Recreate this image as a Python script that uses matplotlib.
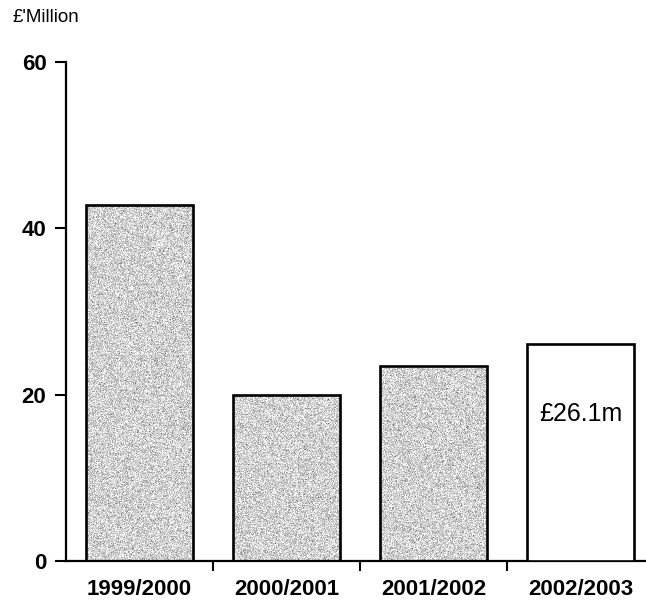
import matplotlib
matplotlib.use("Agg")
import matplotlib.pyplot as plt
import numpy as np

plt.rcParams['font.family'] = ['Liberation Sans', 'DejaVu Sans']

years = ['1999/2000', '2000/2001', '2001/2002', '2002/2003']
spend = [42.8, 20.0, 23.5, 26.1]
shaded = [True, True, True, False]
last_label = '£26.1m'

fig = plt.figure(figsize=(6.46, 6.03), dpi=100)
ax = fig.add_axes([0.102, 0.0697, 0.898, 0.8275])

x = np.arange(len(years))
faces = ['none' if s else 'white' for s in shaded]
bars = ax.bar(x, spend, width=0.73, color=faces, edgecolor='black',
              linewidth=1.9, zorder=3)

# grainy grey stipple inside the shaded bars
rng = np.random.default_rng(7)
grain = np.clip(rng.normal(0.82, 0.12, (420, 170)), 0.3, 1.0)
for b, s in zip(bars, shaded):
    if not s:
        continue
    im = ax.imshow(grain, cmap='gray', vmin=0, vmax=1, aspect='auto',
                   extent=(b.get_x(), b.get_x() + b.get_width(), 0, b.get_height()),
                   interpolation='nearest', zorder=2)
    im.set_clip_path(b)

ax.text(x[-1], 17.7, last_label, ha='center', va='center', fontsize=18, zorder=4)

ax.set_xlim(-0.5, 3.445)
ax.set_ylim(0, 60)
ax.set_yticks([0, 20, 40, 60])
ax.set_xticks(x)
ax.set_xticklabels(years, fontsize=16, fontweight='bold')
ax.set_xticks([0.5, 1.5, 2.5], minor=True)
ax.tick_params(axis='x', which='major', length=0, pad=13)
ax.tick_params(axis='x', which='minor', length=7, width=1.5, direction='out')
ax.tick_params(axis='y', length=8, width=1.5, labelsize=16, pad=6)
for lbl in ax.get_yticklabels():
    lbl.set_fontweight('bold')

for side in ('top', 'right'):
    ax.spines[side].set_visible(False)
for side in ('left', 'bottom'):
    ax.spines[side].set_linewidth(1.6)

fig.text(0.02, 0.985, "£'Million", fontsize=13.5, va='top', ha='left')

fig.savefig('out.png', dpi=100)
